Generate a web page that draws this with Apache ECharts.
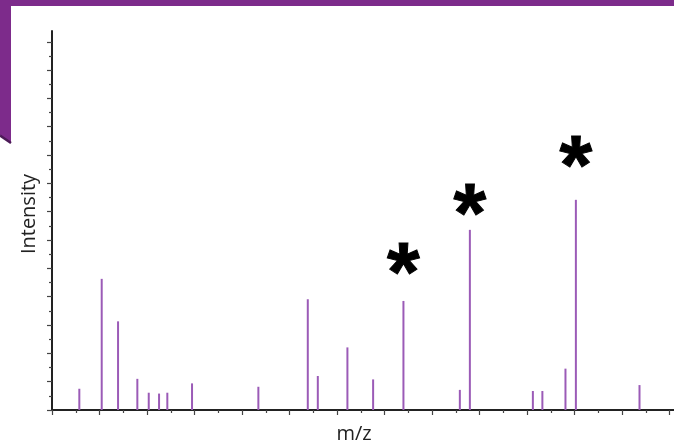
<!DOCTYPE html>
<html>
<head>
<meta charset="utf-8">
<script src="https://cdn.jsdelivr.net/npm/echarts@6/dist/echarts.min.js"></script>
<style>
html,body{margin:0;padding:0;background:#fff;}
#chart{width:674px;height:445px;}
</style>
</head>
<body>
<div id="chart"></div>
<script>
// m/z positions (in major-tick units) and intensities (in major-tick units)
const mzValues = [0.575, 1.046, 1.39, 1.796, 2.036, 2.253, 2.427, 2.947, 4.343, 5.383, 5.594, 6.217, 6.758, 7.396, 8.583, 8.794, 10.12, 10.32, 10.806, 11.025, 12.364];
const intensities = [0.75, 4.63, 3.13, 1.10, 0.61, 0.58, 0.61, 0.94, 0.82, 3.91, 1.20, 2.21, 1.08, 3.85, 0.71, 6.36, 0.67, 0.67, 1.46, 7.42, 0.88];
// annotated peaks (asterisks)
const starMz = [7.396, 8.794, 11.025];
const starLevels = [5.33, 7.43, 9.12];
const starLabel = '*';
const xTitle = 'm/z';
const yTitle = 'Intensity';
const majorTicksX = [0,1,2,3,4,5,6,7,8,9,10,11,12,13];
const minorTicksX = [0.5,1.5,2.5,3.5,4.5,5.5,6.5,7.5,8.5,9.5,10.5,11.5,12.5];
const majorTicksY = [0,1,2,3,4,5,6,7,8,9,10,11,12,13];
const minorTicksY = [0.5,1.5,2.5,3.5,4.5,5.5,6.5,7.5,8.5,9.5,10.5,11.5,12.5];

const peakColor = '#9b5bb7';
const axisColor = '#222';
const X_MAX = 13.09, Y_MAX = 13.38;

const chart = echarts.init(document.getElementById('chart'), null, {renderer:'canvas'});

function xAxisDef(ticks, len, showLine){
  return {
    type:'value', min:0, max:X_MAX, position:'bottom',
    axisLine:{show:showLine, onZero:false, lineStyle:{color:axisColor, width:2}},
    axisTick:{show:true, inside:false, length:len, customValues:ticks, lineStyle:{color:'#444', width:1.2}},
    axisLabel:{show:false}, splitLine:{show:false}
  };
}
function yAxisDef(ticks, len, showLine){
  return {
    type:'value', min:0, max:Y_MAX, position:'left',
    axisLine:{show:showLine, onZero:false, lineStyle:{color:axisColor, width:2}},
    axisTick:{show:true, inside:false, length:len, customValues:ticks, lineStyle:{color:'#444', width:1.2}},
    axisLabel:{show:false}, splitLine:{show:false}
  };
}

const peakData = mzValues.map((m,i)=>[m, intensities[i]]);
const starData = starMz.map((m,i)=>[m, starLevels[i]]);
const STAR_FS = 84;

chart.setOption({
  animation:false,
  backgroundColor:'#fff',
  grid:{left:52, right:0, top:31, bottom:35},
  xAxis:[xAxisDef(majorTicksX,5,true), xAxisDef(minorTicksX,3,false)],
  yAxis:[yAxisDef(majorTicksY,5,true), yAxisDef(minorTicksY,3,false)],
  graphic:[
    {type:'rect', shape:{x:0,y:0,width:674,height:6}, style:{fill:'#7d2b8b'}, z:10},
    {type:'polygon', shape:{points:[[0,0],[11,0],[11,143],[0,135.5]]}, style:{fill:'#7d2b8b'}, z:10},
    {type:'polyline', shape:{points:[[0,135.5],[11,143]]}, style:{stroke:'#4c1a57', lineWidth:2.5, fill:null}, z:11},
    {type:'text', x:29, y:214, rotation:Math.PI/2, style:{text:yTitle, font:'20px "Open Sans"', fill:'#222', align:'center', verticalAlign:'middle'}},
    {type:'text', x:354, y:434, style:{text:xTitle, font:'20px "Open Sans"', fill:'#222', align:'center', verticalAlign:'middle'}}
  ],
  series:[
    {
      type:'custom', xAxisIndex:0, yAxisIndex:0, data:peakData, z:3,
      renderItem:function(params, api){
        const p0 = api.coord([api.value(0), 0]);
        const p1 = api.coord([api.value(0), api.value(1)]);
        return {type:'rect', shape:{x:p0[0]-1, y:p1[1], width:2, height:p0[1]-p1[1]}, style:{fill:peakColor}};
      }
    },
    {
      type:'custom', xAxisIndex:0, yAxisIndex:0, data:starData, z:4,
      renderItem:function(params, api){
        const p = api.coord([api.value(0), api.value(1)]);
        return {type:'text', x:p[0], y:p[1] + STAR_FS*0.23, style:{text:starLabel, font:'bold '+STAR_FS+'px "Liberation Sans"', fill:'#000', stroke:'#000', lineWidth:1, align:'center', verticalAlign:'middle'}};
      }
    }
  ]
});
</script>
</body>
</html>
